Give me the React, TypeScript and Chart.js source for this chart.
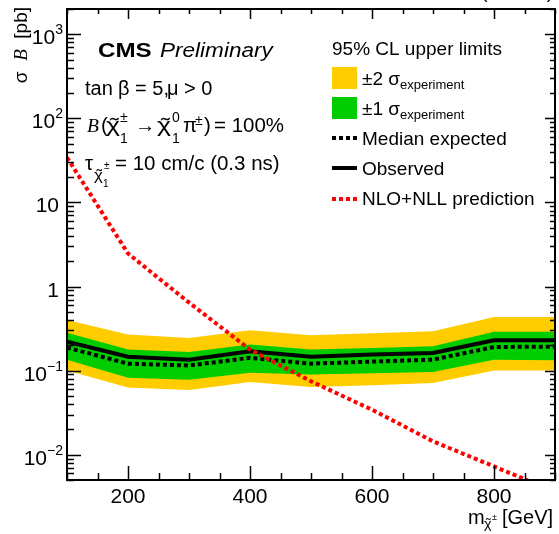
import React, { useEffect, useRef } from "react";
import { Chart, registerables } from "chart.js";

Chart.register(...registerables);

// ---- data ----
const masses = [100, 200, 300, 400, 500, 600, 700, 800, 900];
const observed = [0.221, 0.146, 0.135, 0.17, 0.146, 0.155, 0.162, 0.23, 0.23];
const expected = [0.188, 0.121, 0.115, 0.142, 0.121, 0.128, 0.135, 0.191, 0.193];
const plus1 = [0.283, 0.178, 0.167, 0.204, 0.178, 0.186, 0.195, 0.289, 0.29];
const minus1 = [0.135, 0.082, 0.078, 0.094, 0.09, 0.093, 0.096, 0.135, 0.133];
const plus2 = [0.4, 0.268, 0.245, 0.302, 0.263, 0.278, 0.294, 0.435, 0.435];
const minus2 = [0.1, 0.063, 0.059, 0.073, 0.064, 0.067, 0.071, 0.1, 0.1];
const theory = [34.3, 2.47, 0.645, 0.178, 0.0746, 0.0343, 0.0144, 0.00726, 0.0036];

const xMajorTicks = [200, 400, 600, 800];
const xMinorStep = 50;
const yDecades = [-2, -1, 0, 1, 2, 3];
const X_MIN = 100;
const X_MAX = 900;
const Y_MIN = 0.005;
const Y_MAX = 2000;

const SANS = '"Liberation Sans", Arial, Helvetica, sans-serif';
const SERIF = '"Liberation Serif", "Times New Roman", serif';

const YELLOW = "#FFCC00";
const GREEN = "#00CC00";
const RED = "#FF0000";

type Run = {
  t: string;
  s: number;
  f?: string;
  st?: string;
  dy?: number;
  adv?: boolean;
  tilde?: boolean;
  x?: number; // x relative to the line start
  sx?: number; // horizontal stretch of this run
};

function fontOf(r: Run) {
  return `${r.st ?? ""} ${r.s}px ${r.f ?? SANS}`;
}

function runsWidth(ctx: CanvasRenderingContext2D, runs: Run[]) {
  let w = 0;
  for (const r of runs) {
    ctx.font = fontOf(r);
    if (r.x !== undefined) w = r.x;
    if (r.adv !== false) w += ctx.measureText(r.t).width * (r.sx ?? 1);
  }
  return w;
}

function drawRuns(
  ctx: CanvasRenderingContext2D,
  x: number,
  y: number,
  runs: Run[],
  align: "left" | "right" | "center" = "left",
  sx = 1
) {
  const total = runsWidth(ctx, runs) * sx;
  const x0 = align === "right" ? x - total : align === "center" ? x - total / 2 : x;
  ctx.save();
  ctx.translate(x0, y);
  ctx.scale(sx, 1);
  ctx.textAlign = "left";
  ctx.textBaseline = "alphabetic";
  let cx = 0;
  for (const r of runs) {
    if (r.x !== undefined) cx = r.x;
    ctx.font = fontOf(r);
    const w = ctx.measureText(r.t).width;
    const rs = r.sx ?? 1;
    ctx.save();
    ctx.translate(cx, r.dy ?? 0);
    ctx.scale(rs, 1);
    ctx.fillText(r.t, 0, 0);
    if (r.tilde) {
      const tw = ctx.measureText("\u02DC").width;
      ctx.fillText("\u02DC", (w - tw) / 2 + r.s * 0.05, r.s * 0.02);
    }
    ctx.restore();
    if (r.adv !== false) cx += w * rs;
  }
  ctx.restore();
}

const pts = (arr: number[]) => masses.map((m, i) => ({ x: m, y: arr[i] }));

const decorPlugin = {
  id: "rootDecor",
  afterDraw(chart: any) {
    const ctx: CanvasRenderingContext2D = chart.ctx;
    const { left, right, top, bottom } = chart.chartArea;
    const xs = chart.scales.x;
    const ys = chart.scales.y;
    ctx.save();
    ctx.fillStyle = "#000";
    ctx.strokeStyle = "#000";

    // frame
    ctx.lineWidth = 2;
    ctx.strokeRect(left, top, right - left, bottom - top);

    // x ticks
    ctx.lineWidth = 1.5;
    for (let v = X_MIN; v <= X_MAX; v += xMinorStep) {
      const px = Math.round(xs.getPixelForValue(v)) + 0.5;
      const major = xMajorTicks.includes(v);
      ctx.beginPath();
      ctx.moveTo(px, bottom);
      ctx.lineTo(px, bottom - (major ? 14 : 7));
      ctx.moveTo(px, top);
      ctx.lineTo(px, top + (major ? 10 : 5));
      ctx.stroke();
    }
    // y ticks
    for (const d of [-3, ...yDecades]) {
      for (let k = 1; k <= 9; k++) {
        const v = k * Math.pow(10, d);
        if (v < Y_MIN || v > Y_MAX) continue;
        const py = Math.round(ys.getPixelForValue(v)) + 0.5;
        const major = k === 1;
        ctx.beginPath();
        ctx.moveTo(left, py);
        ctx.lineTo(left + (major ? 14 : 7), py);
        ctx.moveTo(right, py);
        ctx.lineTo(right - (major ? 10 : 5), py);
        ctx.stroke();
      }
    }

    // x tick labels
    for (const v of xMajorTicks) {
      drawRuns(ctx, xs.getPixelForValue(v), 503, [{ t: String(v), s: 21 }], "center");
    }
    // y tick labels
    for (const d of yDecades) {
      const py = ys.getPixelForValue(Math.pow(10, d)) + 10;
      if (d === 0) drawRuns(ctx, 59, py, [{ t: "1", s: 21 }], "right");
      else if (d === 1) drawRuns(ctx, 59, py, [{ t: "10", s: 21 }], "right");
      else
        drawRuns(
          ctx,
          63,
          py,
          [
            { t: "10", s: 21 },
            { t: d < 0 ? "\u2212" + String(-d) : String(d), s: 14, dy: -10 },
          ],
          "right"
        );
    }

    // axis titles
    drawRuns(ctx, 468, 524, [
      { t: "m", s: 20 },
      { t: "\u03C7", s: 12, dy: 4, tilde: true, x: 16, sx: 1.2 },
      { t: "\u00B1", s: 9, dy: -4, x: 24 },
      { t: "[GeV]", s: 20, x: 34 },
    ]);
    ctx.save();
    ctx.translate(27, 7);
    ctx.rotate(-Math.PI / 2);
    drawRuns(
      ctx,
      0,
      0,
      [
        { t: "\u03C3  ", s: 19 },
        { t: "B", s: 19, f: SERIF, st: "italic" },
        { t: "  [pb]", s: 19 },
      ],
      "right"
    );
    ctx.restore();

    // top (clipped) lumi text
    drawRuns(ctx, 553, -2, [{ t: "35.9 fb\u207B\u00B9 (13 TeV)", s: 19 }], "right");

    // CMS label
    drawRuns(ctx, 98, 57, [{ t: "CMS", s: 20.5, st: "bold" }], "left", 1.18);
    drawRuns(ctx, 160, 57, [{ t: "Preliminary", s: 20.5, st: "italic" }], "left", 1.1);

    // model text
    drawRuns(ctx, 85, 95, [
      { t: "tan", s: 20 },
      { t: "\u03B2 = 5,", s: 20, x: 33 },
      { t: "\u03BC > 0", s: 20, x: 82 },
    ]);
    drawRuns(ctx, 87, 132, [
      { t: "B", s: 19.5, f: SERIF, st: "italic" },
      { t: "(", s: 20.5, x: 14 },
      { t: "\u03C7", s: 20.5, tilde: true, x: 19, sx: 1.3 },
      { t: "\u00B1", s: 14, dy: -10, x: 33 },
      { t: "1", s: 14, dy: 11, x: 33 },
      { t: "\u2192", s: 20.5, x: 48 },
      { t: "\u03C7", s: 20.5, tilde: true, x: 70, sx: 1.3 },
      { t: "0", s: 14, dy: -10, x: 85 },
      { t: "1", s: 14, dy: 11, x: 85 },
      { t: "\u03C0", s: 20.5, x: 96 },
      { t: "\u00B1", s: 14, dy: -7, x: 108 },
      { t: ")", s: 20.5, x: 117 },
      { t: "= 100%", s: 20.5, x: 127 },
    ]);
    drawRuns(ctx, 85, 170, [
      { t: "\u03C4", s: 20.5 },
      { t: "\u03C7", s: 14, dy: 10, tilde: true, x: 9, sx: 1.2 },
      { t: "\u00B1", s: 10, dy: -1, x: 19 },
      { t: "1", s: 10, dy: 17, x: 18 },
      { t: "= 10 cm/c (0.3 ns)", s: 20.5, x: 30 },
    ]);

    // legend
    const lx = 332;
    drawRuns(ctx, lx, 55, [{ t: "95% CL upper limits", s: 19 }]);
    ctx.fillStyle = YELLOW;
    ctx.fillRect(lx, 67, 25, 22);
    ctx.fillStyle = GREEN;
    ctx.fillRect(lx, 97, 25, 22);
    ctx.fillStyle = "#000";
    drawRuns(ctx, 362, 85, [
      { t: "\u00B12 \u03C3", s: 19 },
      { t: "experiment", s: 13, dy: 4 },
    ]);
    drawRuns(ctx, 362, 115, [
      { t: "\u00B11 \u03C3", s: 19 },
      { t: "experiment", s: 13, dy: 4 },
    ]);
    const legLine = (y: number, color: string, dash: number[]) => {
      ctx.save();
      ctx.strokeStyle = color;
      ctx.lineWidth = 4;
      ctx.setLineDash(dash);
      ctx.beginPath();
      ctx.moveTo(lx, y);
      ctx.lineTo(lx + 25, y);
      ctx.stroke();
      ctx.restore();
    };
    legLine(138, "#000", [4, 3]);
    drawRuns(ctx, 362, 145, [{ t: "Median expected", s: 19 }]);
    legLine(168, "#000", []);
    drawRuns(ctx, 362, 175, [{ t: "Observed", s: 19 }]);
    legLine(199, RED, [4, 3]);
    drawRuns(ctx, 362, 205, [{ t: "NLO+NLL prediction", s: 19 }]);

    ctx.restore();
  },
};

export default function App() {
  const ref = useRef<HTMLCanvasElement | null>(null);
  useEffect(() => {
    if (!ref.current) return;
    const chart = new Chart(ref.current, {
      type: "line",
      data: {
        datasets: [
          {
            label: "NLO+NLL prediction",
            data: pts(theory),
            borderColor: RED,
            borderWidth: 4,
            borderDash: [4, 3],
            pointRadius: 0,
            fill: false,
            order: 1,
            clip: 0,
          } as any,
          {
            label: "Observed",
            data: pts(observed),
            borderColor: "#000",
            borderWidth: 4,
            pointRadius: 0,
            fill: false,
            order: 2,
          },
          {
            label: "Median expected",
            data: pts(expected),
            borderColor: "#000",
            borderWidth: 4,
            borderDash: [4, 3],
            pointRadius: 0,
            fill: false,
            order: 3,
          },
          {
            label: "+1 sigma",
            data: pts(plus1),
            borderWidth: 0,
            borderColor: GREEN,
            backgroundColor: GREEN,
            pointRadius: 0,
            fill: "+1",
            order: 4,
          },
          {
            label: "-1 sigma",
            data: pts(minus1),
            borderWidth: 0,
            borderColor: GREEN,
            pointRadius: 0,
            fill: false,
            order: 5,
          },
          {
            label: "+2 sigma",
            data: pts(plus2),
            borderWidth: 0,
            borderColor: YELLOW,
            backgroundColor: YELLOW,
            pointRadius: 0,
            fill: "+1",
            order: 6,
          },
          {
            label: "-2 sigma",
            data: pts(minus2),
            borderWidth: 0,
            borderColor: YELLOW,
            pointRadius: 0,
            fill: false,
            order: 7,
          },
        ],
      },
      options: {
        animation: false,
        responsive: true,
        maintainAspectRatio: false,
        layout: { padding: { left: 67, top: 9, right: 4, bottom: 54 } },
        elements: { line: { tension: 0 } },
        scales: {
          x: { type: "linear", min: X_MIN, max: X_MAX, display: false },
          y: { type: "logarithmic", min: Y_MIN, max: Y_MAX, display: false },
        },
        plugins: {
          legend: { display: false },
          tooltip: { enabled: false },
        },
      },
      plugins: [decorPlugin],
    });
    return () => chart.destroy();
  }, []);
  return (
    <div style={{ position: "fixed", left: 0, top: 0, width: 559, height: 534, background: "#fff" }}>
      <canvas ref={ref} />
    </div>
  );
}
